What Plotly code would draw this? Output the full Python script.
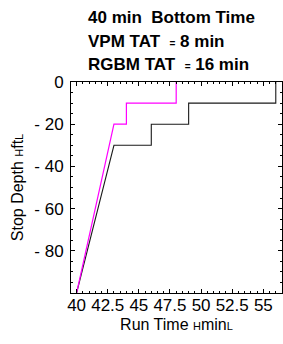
import plotly.graph_objects as go

# VPM profile (run time min, depth ft)
vpm_time = [40, 43, 44, 44, 48, 48]
vpm_depth = [-100, -20, -20, -10, -10, 0]
# RGBM profile
rgbm_time = [40, 43, 46, 46, 49, 49, 56, 56]
rgbm_depth = [-100, -30, -30, -20, -20, -10, -10, 0]

x_ticks = [40, 42.5, 45, 47.5, 50, 52.5, 55]
x_ticktext = ["40", "42.5", "45", "47.5", "50", "52.5", "55"]
y_ticks = [0, -20, -40, -60, -80]
y_ticktext = ["0", "- 20", "- 40", "- 60", "- 80"]

title_lines = [
    "40 min  Bottom Time",
    "VPM TAT  <span style='font-size:10px'>=</span> 8 min",
    "RGBM TAT  <span style='font-size:10px'>=</span> 16 min",
]

FONT = "Liberation Sans, Arial, sans-serif"

fig = go.Figure()
fig.add_trace(go.Scatter(x=rgbm_time, y=rgbm_depth, mode="lines",
                         line=dict(color="#1a1a1a", width=1.1), showlegend=False))
fig.add_trace(go.Scatter(x=vpm_time, y=vpm_depth, mode="lines",
                         line=dict(color="#ff00ff", width=1.2), showlegend=False))

axis_common = dict(
    showgrid=False, zeroline=False, showline=True, linecolor="black", linewidth=1,
    mirror="allticks", ticks="inside", ticklen=4, tickcolor="black", tickwidth=1,
    tickfont=dict(family=FONT, size=17, color="black"),
)

fig.update_xaxes(
    range=[39.55, 56.5], tickvals=x_ticks, ticktext=x_ticktext, tickangle=0,
    ticklabelstandoff=-3,
    minor=dict(dtick=0.5, ticks="inside", ticklen=2, tickcolor="black"),
    title=dict(text="Run Time <span style='font-size:11px'>H</span>min<span style='font-size:11px'>L</span>",
               font=dict(family=FONT, size=16, color="black"), standoff=4),
    **axis_common,
)
fig.update_yaxes(
    range=[-100, 0], tickvals=y_ticks, ticktext=y_ticktext,
    ticklabelstandoff=3,
    minor=dict(dtick=5, ticks="inside", ticklen=2, tickcolor="black"),
    title=dict(text="Stop Depth <span style='font-size:11px'>H</span>ft<span style='font-size:11px'>L</span>",
               font=dict(family=FONT, size=16, color="black"), standoff=6),
    **axis_common,
)

ys = [1.308, 1.194, 1.085]
for t, yy in zip(title_lines, ys):
    fig.add_annotation(text="<b>" + t + "</b>", x=0.072, y=yy, xref="paper", yref="paper",
                       xanchor="left", yanchor="middle", showarrow=False,
                       font=dict(family=FONT, size=17, color="black"))

fig.update_layout(
    width=283, height=344,
    margin=dict(l=71, r=1, t=82, b=51),
    plot_bgcolor="white", paper_bgcolor="white",
)

fig.write_html("out.html", config={"displayModeBar": False},
               post_script="document.body.style.margin='0';")
